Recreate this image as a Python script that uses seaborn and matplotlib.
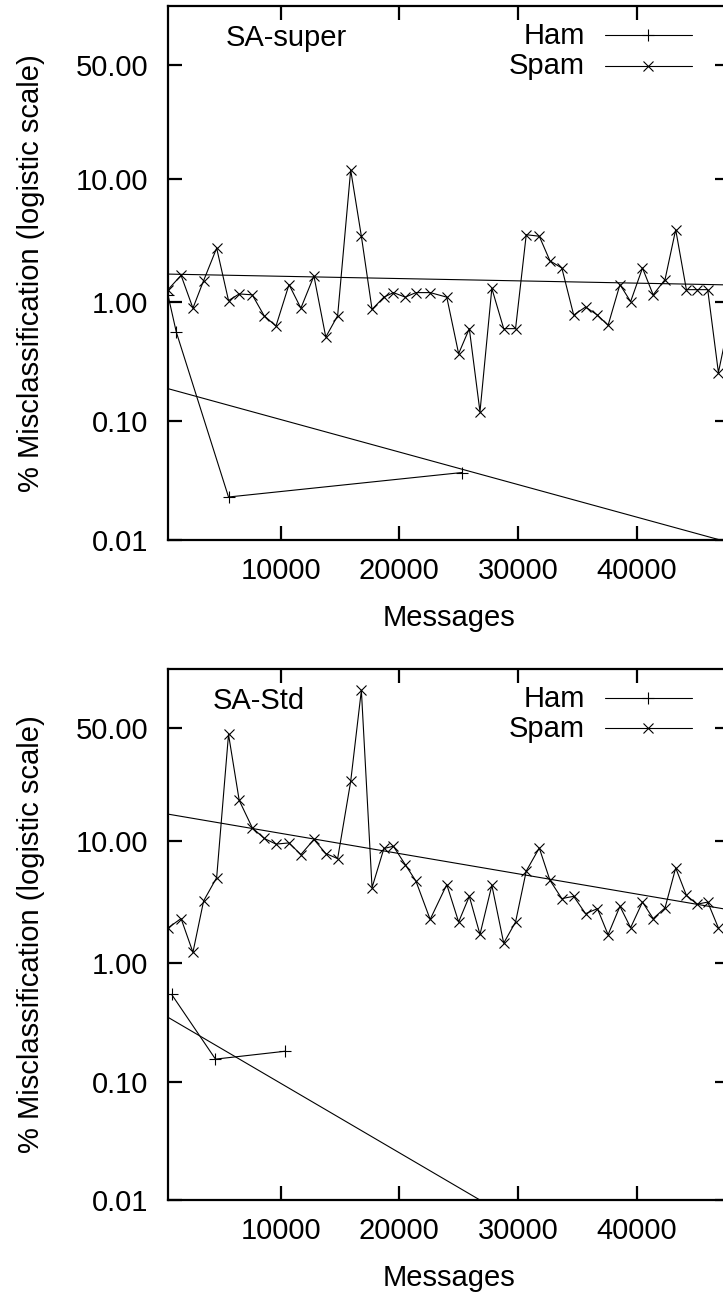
import matplotlib
matplotlib.use("Agg")
import matplotlib.pyplot as plt
import seaborn as sns
from matplotlib.ticker import FixedLocator, FixedFormatter, NullLocator

# Message counts at which each misclassification rate was sampled
messages = [500, 1600, 2600, 3500, 4600, 5600, 6500, 7600, 8600, 9600,
            10700, 11700, 12800, 13800, 14800, 15900, 16800, 17700, 18700, 19500,
            20500, 21400, 22600, 24000, 25000, 25900, 26800, 27800, 28800, 29800,
            30700, 31800, 32700, 33700, 34700, 35700, 36700, 37600, 38600, 39500,
            40500, 41400, 42400, 43300, 44200, 45100, 46000, 46900]
super_messages = messages + [47900]

# SA-super: % misclassified spam
super_spam = [1.27, 1.67, 0.89, 1.51, 2.80, 1.03, 1.17, 1.15, 0.77, 0.63,
              1.40, 0.89, 1.65, 0.51, 0.77, 11.6, 3.5, 0.87, 1.10, 1.20,
              1.10, 1.20, 1.20, 1.10, 0.37, 0.60, 0.12, 1.30, 0.60, 0.60,
              3.6, 3.5, 2.2, 1.92, 0.78, 0.91, 0.78, 0.64, 1.40, 1.01,
              1.92, 1.15, 1.54, 3.96, 1.27, 1.27, 1.27, 0.257, 0.77]
# SA-super: % misclassified ham
super_ham_x = [500, 1200, 5600, 25300]
super_ham = [1.14, 0.56, 0.023, 0.037]

# SA-Std: % misclassified spam
std_spam = [1.98, 2.37, 1.24, 3.31, 5.12, 46.9, 19.6, 12.5, 10.4, 9.4,
            9.6, 7.8, 10.2, 7.95, 7.25, 26.1, 67.6, 4.25, 8.7, 9.05,
            6.5, 4.8, 2.33, 4.5, 2.22, 3.61, 1.75, 4.44, 1.48, 2.22,
            5.78, 8.77, 4.87, 3.46, 3.61, 2.60, 2.86, 1.74, 2.99, 1.99,
            3.24, 2.37, 2.90, 6.12, 3.68, 3.11, 3.24, 1.98]
# SA-Std: % misclassified ham
std_ham_x = [800, 4500, 10400]
std_ham = [0.55, 0.156, 0.182]

# Logistic trend lines (straight on the logit axis), given at both ends of the range
trend_x = [500, 47800]
super_spam_trend = [1.71, 1.39]
super_ham_trend = [0.188, 0.00953]
std_spam_trend = [15.7, 2.80]
std_ham_trend = [0.352, 0.00058]

x_ticks = [10000, 20000, 30000, 40000]
y_tick_pct = [0.01, 0.10, 1.00, 10.00, 50.00]
y_tick_labels = ["0.01", "0.10", "1.00", "10.00", "50.00"]

sns.set_theme(style="ticks")
plt.rcParams["font.family"] = ["Liberation Sans", "DejaVu Sans"]
plt.rcParams.update({
    "axes.linewidth": 1.6,
    "text.color": "black",
    "axes.labelcolor": "black",
    "xtick.color": "black",
    "ytick.color": "black",
    "axes.edgecolor": "black",
})

FS = 21
fig = plt.figure(figsize=(7.23, 12.97), dpi=100)

panels = [
    ("SA-super", [0.2324, 0.5837, 0.776, 0.4117], super_messages, super_spam,
     super_ham_x, super_ham, super_spam_trend, super_ham_trend, 0.1034),
    ("SA-Std", [0.2324, 0.0748, 0.776, 0.4094], messages, std_spam,
     std_ham_x, std_ham, std_spam_trend, std_ham_trend, 0.0802),
]

line_kw = dict(color="black", linewidth=0.8, estimator=None, sort=False)

for title, rect, xs, spam, ham_x, ham, spam_tr, ham_tr, title_x in panels:
    ax = fig.add_axes(rect)
    ax.set_yscale("logit")

    sns.lineplot(x=ham_x, y=[v / 100 for v in ham], ax=ax, marker="+",
                 markersize=8, markeredgewidth=0.8, markeredgecolor="black", **line_kw)
    sns.lineplot(x=xs, y=[v / 100 for v in spam], ax=ax, marker="x",
                 markersize=7, markeredgewidth=0.8, markeredgecolor="black", **line_kw)
    sns.lineplot(x=trend_x, y=[v / 100 for v in ham_tr], ax=ax, **line_kw)
    sns.lineplot(x=trend_x, y=[v / 100 for v in spam_tr], ax=ax, **line_kw)

    ax.set_xlim(500, 47800)
    top = 10 ** 0.5 / (1 + 10 ** 0.5)
    ax.set_ylim(1e-4, top)

    ax.yaxis.set_major_locator(FixedLocator([p / 100 for p in y_tick_pct]))
    ax.yaxis.set_major_formatter(FixedFormatter(y_tick_labels))
    ax.yaxis.set_minor_locator(NullLocator())
    ax.set_xticks(x_ticks)
    ax.set_xticklabels([str(t) for t in x_ticks])
    ax.tick_params(axis="both", which="major", direction="in", length=10, width=1.6,
                   top=True, right=True, labelsize=FS, colors="black")
    ax.tick_params(axis="x", pad=12)
    ax.tick_params(axis="y", pad=14)

    ax.set_xlabel("Messages", fontsize=FS, labelpad=14)
    ax.set_ylabel("% Misclassification (logistic scale)", fontsize=FS, labelpad=22)

    ax.text(title_x, 0.925, title, transform=ax.transAxes, fontsize=FS,
            ha="left", va="baseline")

    # key: label on the left, sample line with a point in its middle on the right
    for label, marker, ms, y_line, y_text in [("Ham", "+", 8, 0.945, 0.928),
                                              ("Spam", "x", 7, 0.888, 0.872)]:
        ax.text(0.7433, y_text, label, transform=ax.transAxes, fontsize=FS,
                ha="right", va="baseline")
        ax.plot([0.779, 0.9335], [y_line, y_line], transform=ax.transAxes,
                color="black", linewidth=0.8, clip_on=False)
        ax.plot([0.856], [y_line], transform=ax.transAxes, marker=marker,
                markersize=ms, markeredgewidth=0.8, color="black", clip_on=False)

fig.savefig("out.png", dpi=100)
